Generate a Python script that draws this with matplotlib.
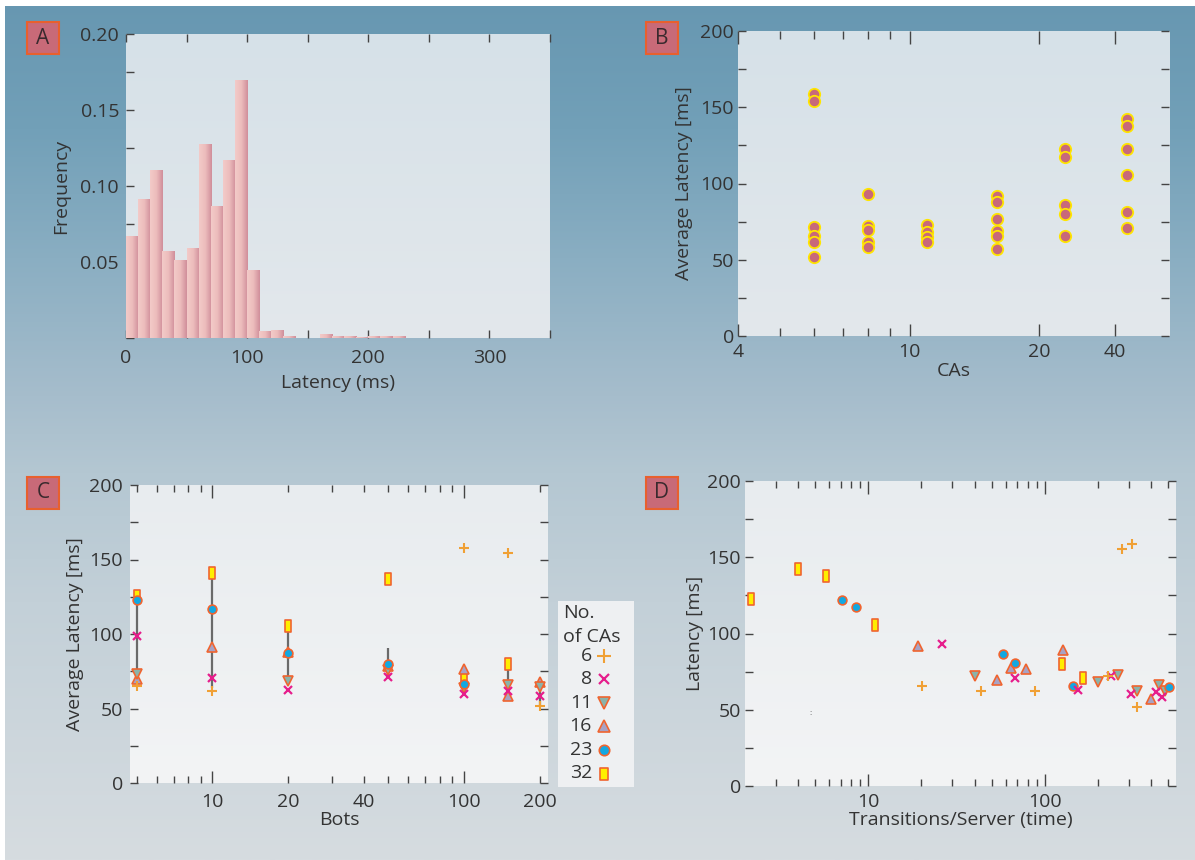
import numpy as np
import matplotlib
matplotlib.use('Agg')
import matplotlib.pyplot as plt
from matplotlib.colors import LinearSegmentedColormap, to_rgb
from matplotlib.path import Path
from matplotlib.patches import Rectangle
import matplotlib.ticker as mticker

plt.rcParams['font.family'] = ['Open Sans', 'DejaVu Sans']

# ---------------- data ----------------
# Panel A: latency histogram (10 ms bins)
hist_bin_left = [0, 10, 20, 30, 40, 50, 60, 70, 80, 90, 100, 110, 120, 130,
                 140, 150, 160, 170, 180, 190, 200, 210, 220]
hist_freq = [0.0669, 0.0912, 0.1103, 0.0570, 0.0511, 0.0590, 0.1274, 0.0866,
             0.1169, 0.1695, 0.0445, 0.0044, 0.0050, 0.0012, 0.0, 0.0,
             0.0025, 0.0010, 0.0010, 0.0008, 0.0010, 0.0010, 0.0010]

# Panel B: average latency per number of CAs
ca_counts = [6, 8, 11, 16, 23, 32]
b_lat_6 = [159, 154, 71.2, 65.5, 61.8, 52]
b_lat_8 = [93, 72, 69.4, 61.8, 58.5]
b_lat_11 = [73.1, 68.3, 65, 61.8]
b_lat_16 = [91.9, 88, 76.6, 69, 65.5, 56.8]
b_lat_23 = [122.3, 117.5, 86.2, 80.3, 65.5]
b_lat_32 = [142.4, 137.6, 122.7, 105.9, 81, 70.7]

# Panel C: average latency vs bots, one series per CA count
nan = np.nan
bots = [5, 10, 20, 50, 100, 150, 200]
c_lat_6 = [65.4, 61.9, nan, nan, 157.6, 154.2, 52.0]
c_lat_8 = [98.8, 70.6, 62.6, 71.0, 59.7, 61.9, 58.1]
c_lat_11 = [73.3, nan, 68.6, 76.0, 63.7, 65.9, 64.4]
c_lat_16 = [69.7, 91.2, 88.0, 78.6, 76.4, 58.1, 67.5]
c_lat_23 = [122.9, 116.6, 87.2, 80.0, 66.6, nan, nan]
c_lat_32 = [125.6, 141.2, 105.5, 136.8, 71.3, 79.8, nan]
c_range_bots = [5, 10, 20, 50, 150, 200]
c_range_lo = [69.7, 64.0, 68.6, 71.0, 60.0, 52.0]
c_range_hi = [122.9, 141.2, 105.5, 90.5, 79.8, 67.5]

# Panel D: latency vs transitions/server
d_x_6 = [20.2, 43.5, 88.1, 229, 273, 312, 332]
d_y_6 = [65.6, 62.6, 62.6, 72.0, 155.4, 159.0, 51.9]
d_x_8 = [26.2, 68.2, 155.4, 239, 310, 425, 460]
d_y_8 = [93.4, 71.1, 62.8, 72.4, 60.6, 61.8, 58.4]
d_x_11 = [40.2, 199.4, 261, 332, 444, 481]
d_y_11 = [72.0, 68.0, 72.5, 62.5, 66.1, 62.3]
d_x_16 = [19.2, 53.6, 64.1, 78.7, 127, 398]
d_y_16 = [91.7, 69.4, 77.2, 76.6, 89.0, 56.8]
d_x_23 = [7.05, 8.55, 58, 68.2, 144.9, 509]
d_y_23 = [122.1, 117.5, 86.4, 80.7, 65.9, 64.9]
d_x_32 = [2.16, 4.0, 5.77, 10.9, 125.4, 165.9]
d_y_32 = [122.8, 142.0, 137.4, 105.7, 80.3, 70.6]

# ---------------- style ----------------
W, H = 1195, 860
fig = plt.figure(figsize=(W / 100, H / 100), dpi=100)
TXT = '#333333'
TICK = '#444444'
FS = 14

def frac_rect(l, t, r, b):
    return [l / W, 1 - b / H, (r - l) / W, (b - t) / H]

def vgrad(stops, n=400):
    pos = np.array([s[0] for s in stops])
    cols = np.array([to_rgb(s[1]) for s in stops])
    t = np.linspace(0, 1, n)
    arr = np.stack([np.interp(t, pos, cols[:, k]) for k in range(3)], axis=-1)
    return arr[:, None, :]

# figure background gradient
bg = fig.add_axes([0, 0, 1, 1], zorder=-10)
bg.imshow(vgrad([(0, '#6797b1'), (0.15, '#72a0b8'), (0.30, '#8aaec2'),
                 (0.46, '#a6bdcc'), (0.55, '#b4c7d2'), (0.70, '#c3d0d8'),
                 (1.0, '#d6dce0')]), extent=[0, 1, 0, 1], aspect='auto')
bg.set_xlim(0, 1); bg.set_ylim(0, 1); bg.axis('off')
bg.add_patch(Rectangle((0, 1 - 6 / H), 1, 6 / H, color='white', lw=0))
bg.add_patch(Rectangle((0, 0), 5 / W, 1, color='white', lw=0))

def make_axes(l, t, r, b, top_col, bot_col):
    rect = frac_rect(l, t, r, b)
    abg = fig.add_axes(rect, zorder=-5)
    abg.imshow(vgrad([(0, top_col), (1, bot_col)]), extent=[0, 1, 0, 1], aspect='auto')
    abg.set_xlim(0, 1); abg.set_ylim(0, 1); abg.axis('off')
    ax = fig.add_axes(rect, zorder=0)
    ax.set_facecolor('none')
    for s in ax.spines.values():
        s.set_visible(False)
    ax.tick_params(which='both', direction='in', colors=TICK, labelcolor=TXT,
                   labelsize=FS, width=1)
    return ax

def panel_label(l, t, letter):
    bg.add_patch(Rectangle((l / W, 1 - (t + 32) / H), 32 / W, 32 / H,
                           facecolor='#c86a78', edgecolor='#e8602e', lw=1.5))
    fig.text((l + 16) / W, 1 - (t + 16) / H, letter, ha='center', va='center',
             fontsize=15, color='#3a2a2e')

# ---------------- Panel A ----------------
axA = make_axes(126, 34, 550, 338, '#d6e1e8', '#e3e8ec')
pink = LinearSegmentedColormap.from_list('pk', ['#f3cbc8', '#ecbcbc', '#d08e9a'])
grad_row = np.linspace(0, 1, 64)[None, :]
bars = axA.bar(hist_bin_left, hist_freq, width=10, align='edge',
               facecolor='none', edgecolor='none')
for p in bars.patches:
    x0, w, h = p.get_x(), p.get_width(), p.get_height()
    if h <= 0:
        continue
    im = axA.imshow(grad_row, extent=[x0, x0 + w, 0, h], aspect='auto', cmap=pink,
                    zorder=2, interpolation='bilinear')
    im.set_clip_path(p)
axA.set_xlim(0, 350)
axA.set_ylim(0, 0.2)
axA.xaxis.set_major_locator(mticker.MultipleLocator(50))
axA.xaxis.set_major_formatter(mticker.FuncFormatter(
    lambda v, p: f'{int(v)}' if abs(v % 100) < 1e-6 else ''))
axA.yaxis.set_major_locator(mticker.MultipleLocator(0.05))
axA.yaxis.set_minor_locator(mticker.MultipleLocator(0.025))
axA.yaxis.set_major_formatter(mticker.FuncFormatter(
    lambda v, p: '' if v < 1e-9 else f'{v:.2f}'))
axA.tick_params(axis='x', which='both', top=True, bottom=True, length=6, pad=8)
axA.tick_params(axis='y', which='both', left=True, right=False, length=6, pad=5)
axA.set_xlabel('Latency (ms)', fontsize=FS, color=TXT, labelpad=5)
axA.set_ylabel('Frequency', fontsize=FS, color=TXT, labelpad=7)
panel_label(27, 22, 'A')

# ---------------- Panel B ----------------
axB = make_axes(738, 31, 1169, 336, '#d6e1e8', '#e3e8ec')
for ca, vals in zip(ca_counts, [b_lat_6, b_lat_8, b_lat_11, b_lat_16, b_lat_23, b_lat_32]):
    axB.plot([ca] * len(vals), vals, linestyle='none', marker='o', ms=8.2,
             mfc='#c8697a', mec='#ffe500', mew=1.3, zorder=3)
axB.set_xscale('log')
axB.set_xlim(4, 40)
axB.set_ylim(0, 200)
axB.xaxis.set_major_locator(mticker.FixedLocator([4, 10, 20, 30]))
axB.xaxis.set_major_formatter(mticker.FixedFormatter(['4', '10', '20', '40']))
axB.xaxis.set_minor_locator(mticker.FixedLocator([5, 6, 7, 8, 9]))
axB.xaxis.set_minor_formatter(mticker.NullFormatter())
axB.yaxis.set_major_locator(mticker.MultipleLocator(50))
axB.yaxis.set_minor_locator(mticker.MultipleLocator(25))
axB.tick_params(axis='x', which='major', top=True, bottom=True, length=9, pad=5)
axB.tick_params(axis='x', which='minor', top=True, bottom=True, length=6)
axB.tick_params(axis='y', which='both', left=True, right=True, length=6, pad=3)
axB.set_xlabel('CAs', fontsize=FS, color=TXT, labelpad=1)
axB.set_ylabel('Average Latency [ms]', fontsize=FS, color=TXT, labelpad=5)
panel_label(646, 22, 'B')

# ---------------- markers for C / D ----------------
rect_marker = Path([(-0.6, -1), (0.6, -1), (0.6, 1), (-0.6, 1), (-0.6, -1)],
                   [Path.MOVETO, Path.LINETO, Path.LINETO, Path.LINETO, Path.CLOSEPOLY])
EDGE = '#f0642f'
styles = {
    6: dict(marker='+', ms=7, mec='#f0a035', mew=1.5),
    8: dict(marker='x', ms=5.5, mec='#e61e8c', mew=1.6),
    11: dict(marker='v', ms=7, mfc='#8ab3aa', mec=EDGE, mew=1.2),
    16: dict(marker='^', ms=7, mfc='#a8a2c4', mec=EDGE, mew=1.2),
    23: dict(marker='o', ms=6.3, mfc='#12a8e2', mec=EDGE, mew=1.2),
    32: dict(marker=rect_marker, ms=8, mfc='#ffee00', mec=EDGE, mew=1.2),
}
legend_ms = {6: 10, 8: 7, 11: 8, 16: 8, 23: 7.5, 32: 9}
draw_order = [32, 16, 11, 23, 8, 6]

def log_ticks(ax, major, minor, labels, xpad):
    ax.set_xscale('log')
    ax.xaxis.set_major_locator(mticker.FixedLocator(major))
    ax.xaxis.set_minor_locator(mticker.FixedLocator(minor))
    fmt = lambda v, p: f'{v:g}' if any(abs(v - l) < 1e-6 for l in labels) else ''
    ax.xaxis.set_major_formatter(mticker.FuncFormatter(fmt))
    ax.xaxis.set_minor_formatter(mticker.FuncFormatter(fmt))
    ax.tick_params(axis='x', which='major', top=True, bottom=True, length=9, pad=xpad)
    ax.tick_params(axis='x', which='minor', top=True, bottom=True, length=5, pad=xpad,
                   labelsize=FS, labelcolor=TXT, colors=TICK)
    ax.set_ylim(0, 200)
    ax.yaxis.set_major_locator(mticker.MultipleLocator(50))
    ax.yaxis.set_minor_locator(mticker.MultipleLocator(25))

# ---------------- Panel C ----------------
axC = make_axes(130, 485, 548, 783, '#e8ecef', '#f3f4f5')
axC.vlines(c_range_bots, c_range_lo, c_range_hi, colors='#6a6a6a', lw=1.6, zorder=1)
c_series = {6: c_lat_6, 8: c_lat_8, 11: c_lat_11, 16: c_lat_16, 23: c_lat_23, 32: c_lat_32}
for ca in draw_order:
    axC.plot(bots, c_series[ca], linestyle='none', zorder=3, **styles[ca])
log_ticks(axC, [10, 100], [5, 6, 7, 8, 9, 20, 30, 40, 50, 60, 70, 80, 90, 200],
          [10, 20, 40, 100, 200], 7)
axC.tick_params(axis='y', which='both', left=True, right=True, length=6, pad=5)
axC.set_xlim(4.7, 216)
axC.set_xlabel('Bots', fontsize=FS, color=TXT, labelpad=0)
axC.set_ylabel('Average Latency [ms]', fontsize=FS, color=TXT, labelpad=4)
panel_label(27, 477, 'C')

# legend box (drawn manually, number then marker)
axL = fig.add_axes(frac_rect(558, 601, 634, 787), zorder=2)
axL.set_xlim(558, 634); axL.set_ylim(787, 601)
axL.set_facecolor('#eef0f2')
for s in axL.spines.values():
    s.set_visible(False)
axL.set_xticks([]); axL.set_yticks([])
axL.text(563, 613, 'No.', fontsize=FS, color=TXT, ha='left', va='center')
axL.text(563, 637, 'of CAs', fontsize=FS, color=TXT, ha='left', va='center')
for i, ca in enumerate(ca_counts):
    yy = 655.5 + i * 23.6
    axL.text(592, yy, str(ca), fontsize=FS, color=TXT, ha='right', va='center')
    st = dict(styles[ca]); st['ms'] = legend_ms[ca]
    axL.plot([604], [yy], linestyle='none', **st)

# ---------------- Panel D ----------------
axD = make_axes(745, 481, 1176, 786, '#e8ecef', '#f3f4f5')
d_series = {6: (d_x_6, d_y_6), 8: (d_x_8, d_y_8), 11: (d_x_11, d_y_11),
            16: (d_x_16, d_y_16), 23: (d_x_23, d_y_23), 32: (d_x_32, d_y_32)}
for ca in draw_order:
    xs, ys = d_series[ca]
    axD.plot(xs, ys, linestyle='none', zorder=3, **styles[ca])
log_ticks(axD, [10, 100], [3, 4, 5, 6, 7, 8, 9, 20, 30, 40, 50, 60, 70, 80, 90,
                           200, 300, 400, 500], [10, 100], 5)
axD.tick_params(axis='y', which='both', left=True, right=True, length=6, pad=3)
axD.set_xlim(2, 555)
axD.text(4.7, 47.5, ':', fontsize=6, color='#555555', ha='center', va='center')
axD.set_xlabel('Transitions/Server (time)', fontsize=FS, color=TXT, labelpad=0)
axD.set_ylabel('Latency [ms]', fontsize=FS, color=TXT, labelpad=2)
panel_label(646, 477, 'D')

fig.savefig('out.png', dpi=100)
